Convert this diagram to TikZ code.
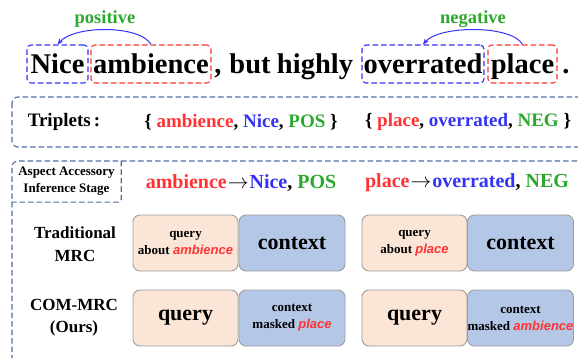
\documentclass[tikz,border=0pt]{standalone}
\usepackage{fontspec}
\setmainfont{Liberation Serif}
\newfontfamily\timesfont{Liberation Serif}
\newfontfamily\arialfont{Liberation Sans}
\usetikzlibrary{arrows.meta}
\definecolor{tred}{HTML}{FF3333}
\definecolor{tblue}{HTML}{3333F5}
\definecolor{tgreen}{HTML}{2CA82C}
\definecolor{framec}{HTML}{4F6BA5}
\definecolor{peach}{HTML}{FBE5D6}
\definecolor{lblue}{HTML}{B4C7E7}
\definecolor{edgec}{HTML}{9E9E9E}
\newcommand\emred[1]{{\arialfont\bfseries\itshape\color{tred}#1}}
\begin{document}
\begin{tikzpicture}[x=1pt,y=-1pt,
  word/.style={font=\timesfont\fontsize{28.5}{34}\selectfont\bfseries, inner sep=0, anchor=base},
  wbox/.style={draw, dash pattern=on 5.5pt off 3pt, rounded corners=4pt, line width=1.1pt,
    inner sep=0, text height=29pt, text depth=9pt,
    font=\timesfont\fontsize{28.5}{34}\selectfont\bfseries},
  senti/.style={font=\timesfont\fontsize{18.5}{22}\selectfont\bfseries, text=tgreen, inner sep=0},
  arr/.style={draw=tblue, line width=1pt, -{Stealth[length=6pt,width=5pt]}},
  framestyle/.style={draw=framec, dash pattern=on 5.5pt off 3pt, line width=1.1pt},
  trip/.style={font=\timesfont\fontsize{19}{23}\selectfont\bfseries, inner sep=0},
  asp/.style={font=\timesfont\fontsize{20}{24}\selectfont\bfseries, inner sep=0},
  rowlab/.style={font=\timesfont\fontsize{17}{23}\selectfont\bfseries, align=center, inner sep=0},
  qbox/.style={draw=edgec, fill=peach, rounded corners=7pt, line width=0.9pt,
    minimum width=105pt, minimum height=56pt, inner sep=0, align=center},
  cbox/.style={qbox, fill=lblue, minimum width=106pt},
  small/.style={font=\timesfont\fontsize{13}{17}\selectfont\bfseries},
  big/.style={font=\timesfont\fontsize{22}{26}\selectfont\bfseries}
]
\useasboundingbox (0,0) rectangle (578,358);

% top sentence
\node[wbox, draw=tblue, minimum width=61pt] (nice) at (57.5,64) {Nice};
\node[wbox, draw=tred, minimum width=120pt] (amb) at (151,64) {ambience};
\node[word] (comma) at (218,74) {,};
\node[word] (but) at (250,74) {but};
\node[word] (highly) at (315,74) {highly};
\node[wbox, draw=tblue, minimum width=122pt] (over) at (423,64) {overrated};
\node[wbox, draw=tred, minimum width=69pt] (place) at (522.5,64) {place};
\node[word] (dot) at (566,74) {.};

\draw[arr] (amb.north) .. controls (140,25) and (75,25) .. (nice.north);
\draw[arr] (place.north) .. controls (512,25) and (440,25) .. (over.north);
\node[senti] (pos) at (105,19) {positive};
\node[senti] (neg) at (473,19) {negative};

% triplets
\draw[framestyle, rounded corners=6pt] (12,97) rectangle (640,147);
\node[trip] (tl) at (64,122) {Triplets\,:};
\node[trip] (t1) at (241,122) {\{ \textcolor{tred}{ambience}, \textcolor{tblue}{Nice}, \textcolor{tgreen}{POS} \}};
\node[trip] (t2) at (468,122) {\{ \textcolor{tred}{place}, \textcolor{tblue}{overrated}, \textcolor{tgreen}{NEG} \}};

% lower frame
\draw[framestyle, rounded corners=6pt] (12,420) |- (640,161);
\node[small, align=center, inner sep=0, minimum width=109pt, minimum height=41pt] (stage) at (66.5,181.5) {Aspect Accessory\\Inference Stage};
\draw[framestyle, rounded corners=3pt] (stage.north east) |- (stage.south west);

\node[asp] (a1) at (241,183) {\textcolor{tred}{ambience}\kern1pt$\rightarrow$\kern1pt\textcolor{tblue}{Nice}, \textcolor{tgreen}{POS}};
\node[asp] (a2) at (467,183) {\textcolor{tred}{place}\kern1pt$\rightarrow$\kern1pt\textcolor{tblue}{overrated}, \textcolor{tgreen}{NEG}};

% rows
\node[rowlab] (trad) at (75,244) {Traditional\\MRC};
\node[rowlab, font=\timesfont\fontsize{17}{22}\selectfont\bfseries] (com) at (74,318) {COM-MRC\\(Ours)};

\node[qbox, small] (q1) at (185.5,243) {query\\about \emred{ambience}};
\node[cbox, big] (c1) at (292,243) {context};
\node[qbox, small] (q2) at (414.5,243) {query\\about \emred{place}};
\node[cbox, big] (c2) at (520.5,243) {context};

\node[qbox, big] (q3) at (185.5,318) {query};
\node[cbox, small] (c3) at (292,318) {context\\masked \emred{place}};
\node[qbox, big] (q4) at (414.5,318) {query};
\node[cbox, small] (c4) at (520.5,318) {context\\masked \emred{ambience}};
\end{tikzpicture}
\end{document}
